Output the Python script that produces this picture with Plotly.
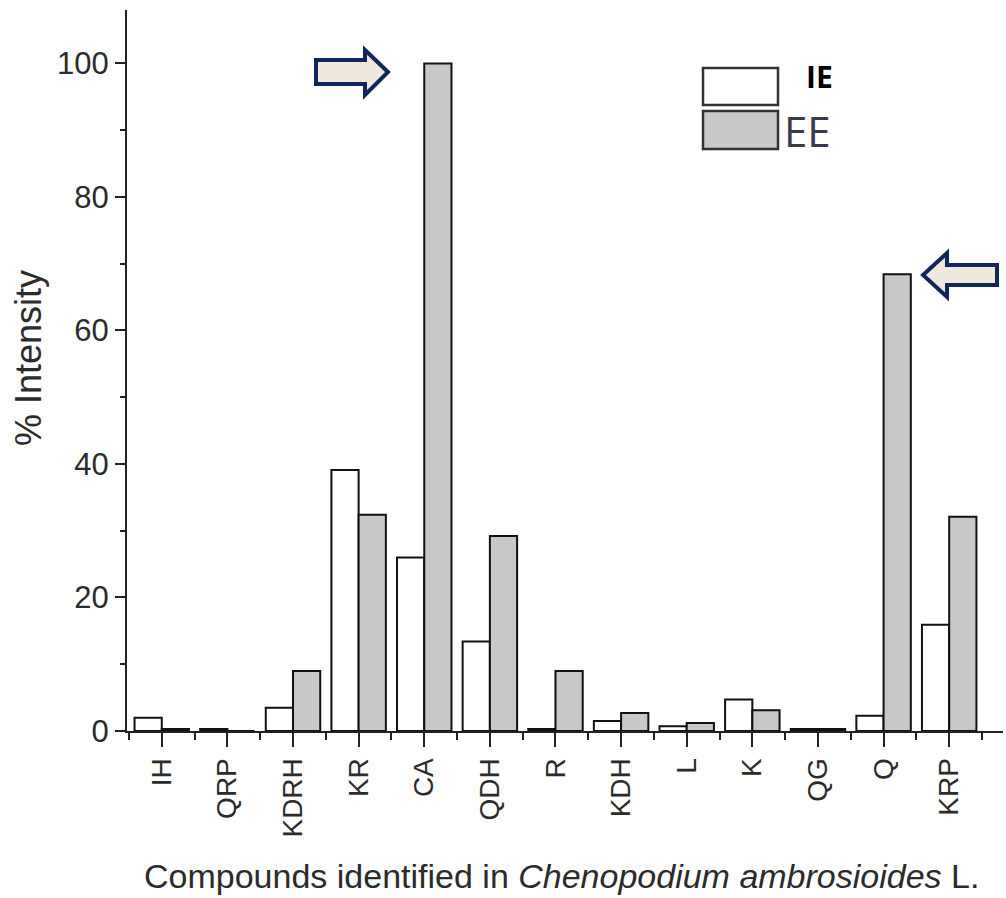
import plotly.graph_objects as go

compounds = ["IH", "QRP", "KDRH", "KR", "CA", "QDH", "R", "KDH", "L", "K", "QG", "Q", "KRP"]
ie_values = [2.0, 0.3, 3.5, 39.1, 26.0, 13.4, 0.3, 1.5, 0.7, 4.7, 0.3, 2.3, 15.9]
ee_values = [0.3, 0.0, 9.0, 32.4, 100.0, 29.2, 9.0, 2.7, 1.2, 3.1, 0.3, 68.4, 32.1]
y_ticks = [0, 20, 40, 60, 80, 100]

W, H = 1006, 898
L, R, T, B = 127, 3, 10, 167
pw, ph = W - L - R, H - T - B

def px(x):
    return (x - L) / pw

def py(y):
    return (H - B - y) / ph

xs = list(range(len(compounds)))

fig = go.Figure()
fig.add_trace(go.Bar(x=xs, y=ie_values, name="IE",
                     marker=dict(color="white", line=dict(color="#111111", width=2))))
fig.add_trace(go.Bar(x=xs, y=ee_values, name="EE",
                     marker=dict(color="#c8c8ca", line=dict(color="#111111", width=2))))

font_main = "Liberation Sans, Arial, sans-serif"
txt_col = "#2b2b2b"

fig.update_layout(
    width=W, height=H,
    margin=dict(l=L, r=R, t=T, b=B, autoexpand=False),
    paper_bgcolor="white", plot_bgcolor="white",
    barmode="group", bargap=0.17, bargroupgap=0,
    showlegend=False,
    font=dict(family=font_main, color=txt_col),
)

fig.update_xaxes(
    range=[-0.53, 12.82],
    tickmode="array", tickvals=xs, ticktext=compounds,
    tickangle=-90, ticks="outside", ticklen=14, tickwidth=2, tickcolor="#222222",
    minor=dict(tickmode="array", tickvals=[i - 0.5 for i in range(len(compounds) + 1)],
               ticks="outside", ticklen=7, tickwidth=2, tickcolor="#222222"),
    showline=True, linecolor="#222222", linewidth=2,
    showgrid=False, zeroline=False,
    tickfont=dict(size=28, color=txt_col, family=font_main),
)

fig.update_yaxes(
    range=[0, 108],
    tickmode="array", tickvals=y_ticks,
    ticks="outside", ticklen=10, tickwidth=2, tickcolor="#222222",
    minor=dict(tickmode="array", tickvals=[10, 30, 50, 70, 90],
               ticks="outside", ticklen=5, tickwidth=2, tickcolor="#222222"),
    showline=True, linecolor="#222222", linewidth=2,
    showgrid=False, zeroline=False,
    tickfont=dict(size=31, color=txt_col, family=font_main),
)

shapes = []
# legend boxes
shapes.append(dict(type="rect", xref="paper", yref="paper",
                   x0=px(703), x1=px(778), y0=py(105), y1=py(68),
                   fillcolor="white", line=dict(color="#333333", width=2.5)))
shapes.append(dict(type="rect", xref="paper", yref="paper",
                   x0=px(703), x1=px(778), y0=py(149), y1=py(111),
                   fillcolor="#c8c8ca", line=dict(color="#333333", width=2.5)))

def poly(points):
    return "M " + " L ".join(f"{px(a):.5f},{py(b):.5f}" for a, b in points) + " Z"

# right-pointing arrow
right_arrow = [(316, 60), (365, 60), (365, 50), (388, 72), (365, 95), (365, 84), (316, 84)]
# left-pointing arrow
left_arrow = [(997, 265), (947, 265), (947, 253), (923, 275), (947, 297), (947, 285), (997, 285)]
for pts in (right_arrow, left_arrow):
    shapes.append(dict(type="path", xref="paper", yref="paper", path=poly(pts),
                       fillcolor="#efe8df", line=dict(color="#112659", width=4)))

fig.update_layout(shapes=shapes)

# legend texts
fig.add_annotation(x=px(819), y=py(77), xref="paper", yref="paper", text="<b>IE</b>",
                   xanchor="center", yanchor="middle",
                   showarrow=False, font=dict(size=30, color="#000000", family="Open Sans, sans-serif"))
fig.add_annotation(x=px(807), y=py(130), xref="paper", yref="paper", text="EE",
                   xanchor="center", yanchor="middle",
                   showarrow=False, font=dict(size=42, color="#3a3a48", family="Open Sans, sans-serif"))

# axis titles
fig.add_annotation(x=px(28), y=py(358), xref="paper", yref="paper", text="% Intensity",
                   textangle=-90, xanchor="center", yanchor="middle",
                   showarrow=False, font=dict(size=36, color=txt_col, family=font_main))
fig.add_annotation(x=px(561), y=py(876), xref="paper", yref="paper",
                   text="Compounds identified in <i>Chenopodium ambrosioides</i> L.",
                   xanchor="center", yanchor="middle",
                   showarrow=False, font=dict(size=34, color=txt_col, family=font_main))

fig.write_html("out.html")
